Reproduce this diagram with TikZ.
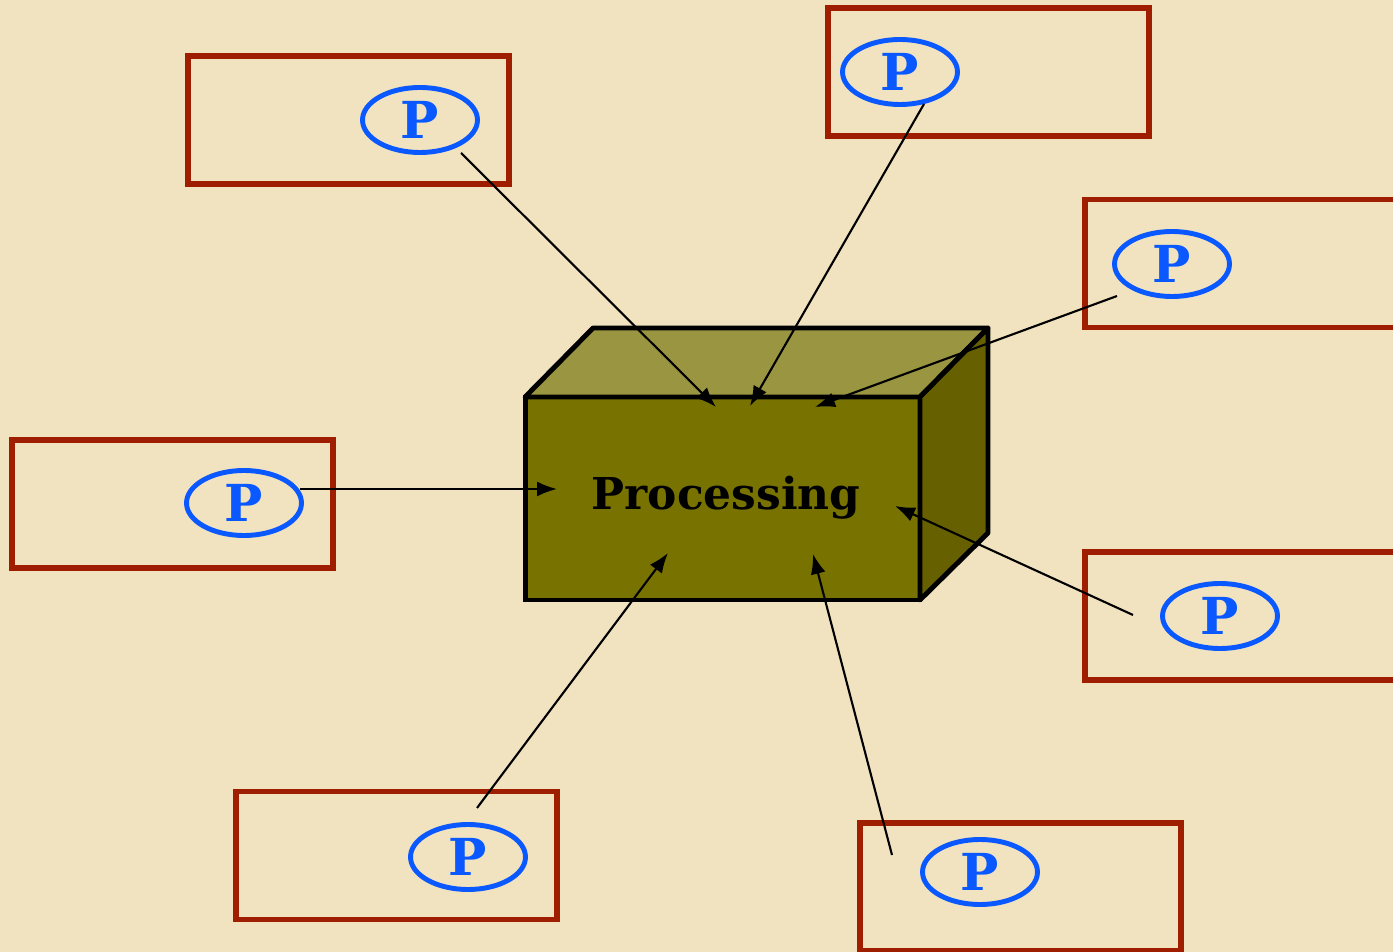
\documentclass[tikz,border=0pt]{standalone}
\usepackage{fontspec}
\setmainfont{DejaVu Serif}
\usetikzlibrary{arrows.meta, shapes.geometric}
\definecolor{cpaper}{HTML}{F1E2C0}
\definecolor{cframe}{HTML}{A01E00}
\definecolor{cblue}{HTML}{0A58FF}
\definecolor{cfront}{HTML}{787300}
\definecolor{ctop}{HTML}{9A9540}
\definecolor{cside}{HTML}{666000}
\tikzset{
  every picture/.style={line width=1.2pt},
  frame/.style={draw=cframe, line width=3.2pt, minimum width=6.42cm, minimum height=2.56cm, inner sep=0pt},
  pmark/.style={ellipse, draw=cblue, line width=2.8pt, text=cblue, minimum width=2.3cm, minimum height=1.3cm, inner sep=0pt, font=\fontsize{29}{30}\selectfont\bfseries},
  arrow/.style={-{Latex[length=4mm, width=3mm]}, draw=black, line width=1.2pt},
}
\begin{document}
\begin{tikzpicture}[x=0.02cm, y=-0.02cm,
  front/.style={draw=black, fill=cfront, line width=2.8pt, minimum width=7.9cm, minimum height=4.06cm, inner sep=0pt, outer sep=0pt},
  face/.style={draw=black, line width=2.8pt, line join=round}]
  % paper background
  \fill[cpaper] (0,0) rectangle (1393,952);
  \useasboundingbox (0,0) rectangle (1393,952);
  \clip (0,0) rectangle (1393,952);
  % the box
  \node[front] (proc) at (722.5,498.5) {};
  \draw[face, fill=ctop] (proc.north west) -- ++(68,-69) -- ++(395,0) -- (proc.north east) -- cycle;
  \draw[face, fill=cside] (proc.north east) -- ++(68,-69) -- ++(0,205) -- (proc.south east) -- cycle;
  \node[font=\fontsize{25}{27}\selectfont\bfseries] (lbl) at (726,498) {Processing};
  % frames
  \node[frame] (f1) at (348.5,120) {};
  \node[frame] (f2) at (988.5,72) {};
  \node[frame] (f3) at (1245.5,263.5) {};
  \node[frame] (f4) at (172.5,504) {};
  \node[frame] (f5) at (1245.5,616) {};
  \node[frame] (f6) at (396.5,855.5) {};
  \node[frame] (f7) at (1020.5,887) {};
  % P marks
  \node[pmark] (p1) at (420,120) {P};
  \node[pmark] (p2) at (900,72) {P};
  \node[pmark] (p3) at (1172,264) {P};
  \node[pmark] (p4) at (244,503) {P};
  \node[pmark] (p5) at (1220,616) {P};
  \node[pmark] (p6) at (468,857) {P};
  \node[pmark] (p7) at (980,872) {P};
  % arrow ends
  \coordinate (s1) at (461,153);
  \coordinate (s2) at (924,104);
  \coordinate (s3) at (1117,296);
  \coordinate (s4) at (300,489);
  \coordinate (s5) at (1133,615);
  \coordinate (s6) at (477,808);
  \coordinate (s7) at (892,855);
  \coordinate (t1) at (716,407);
  \coordinate (t2) at (750,406);
  \coordinate (t3) at (815,407);
  \coordinate (t4) at (557,489);
  \coordinate (t5) at (895,506);
  \coordinate (t6) at (668,553);
  \coordinate (t7) at (813,554);
  \foreach \i in {1,...,7}
    \draw[arrow] (s\i) -- (t\i);
\end{tikzpicture}
\end{document}
